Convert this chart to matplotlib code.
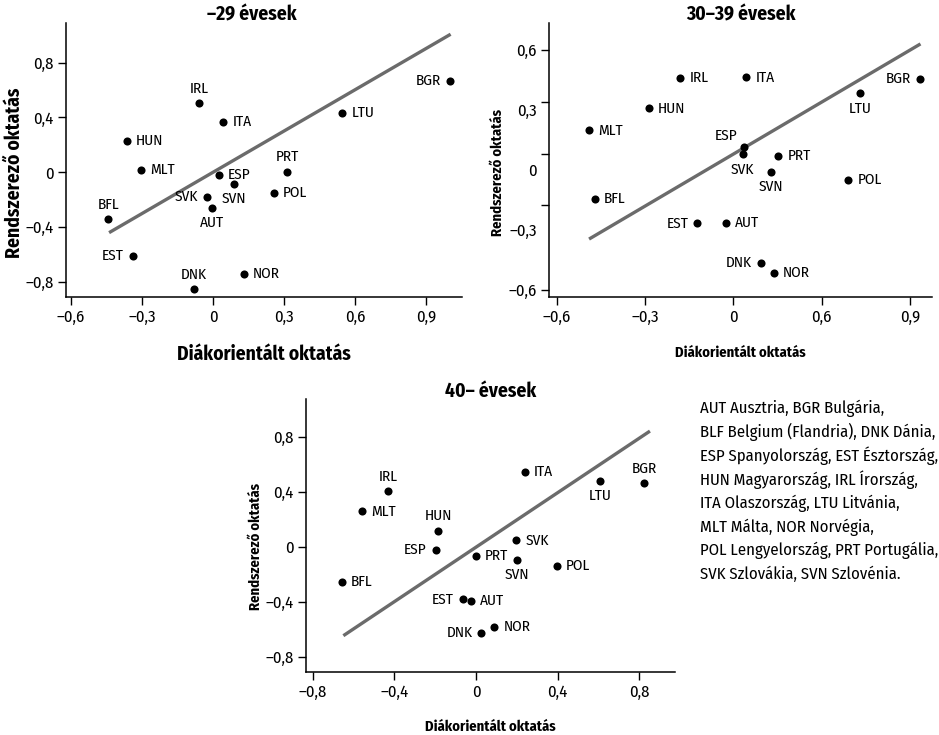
import matplotlib
matplotlib.use('Agg')
import matplotlib.pyplot as plt
from matplotlib.ticker import FixedLocator, FixedFormatter, NullFormatter

plt.rcParams['font.family'] = ['Fira Sans Condensed', 'Roboto Condensed', 'PT Sans Narrow',
                               'Asap Condensed', 'Liberation Sans Narrow', 'DejaVu Sans']

# --- data ---
codes = ['BGR', 'LTU', 'IRL', 'ITA', 'HUN', 'MLT', 'ESP', 'PRT',
         'SVN', 'POL', 'SVK', 'AUT', 'BFL', 'EST', 'NOR', 'DNK']

x_29 = [1.00, 0.547, -0.058, 0.044, -0.363, -0.304, 0.025, 0.314,
        0.090, 0.258, -0.025, -0.004, -0.442, -0.338, 0.131, -0.082]
y_29 = [0.667, 0.431, 0.504, 0.367, 0.231, 0.019, -0.020, 0.004,
        -0.083, -0.153, -0.180, -0.258, -0.341, -0.609, -0.740, -0.855]
fit_29 = ([-0.439, 1.004], [-0.441, 1.008])

x_30 = [0.636, 0.430, -0.180, 0.044, -0.286, -0.490, 0.036, 0.153,
        0.129, 0.391, 0.032, -0.024, -0.470, -0.122, 0.138, 0.093]
y_30 = [0.457, 0.383, 0.460, 0.463, 0.308, 0.198, 0.117, 0.072,
        -0.008, -0.048, 0.078, -0.263, -0.145, -0.267, -0.513, -0.465]
fit_30 = ([-0.490, 0.636], [-0.345, 0.630])

x_40 = [0.823, 0.607, -0.429, 0.238, -0.186, -0.560, -0.198, 0.000,
        0.202, 0.395, 0.198, -0.023, -0.656, -0.064, 0.090, 0.026]
y_40 = [0.463, 0.478, 0.405, 0.545, 0.116, 0.257, -0.022, -0.065,
        -0.095, -0.141, 0.046, -0.395, -0.257, -0.383, -0.582, -0.625]
fit_40 = ([-0.650, 0.852], [-0.647, 0.841])

xticks_29 = [-0.6, -0.3, 0, 0.3, 0.6, 0.9]
xticklabels_29 = ['–0,6', '–0,3', '0', '0,3', '0,6', '0,9']
yticks_29 = [-0.8, -0.4, 0, 0.4, 0.8]
yticklabels_29 = ['–0,8', '–0,4', '0', '0,4', '0,8']

xticks_30 = [-0.6, -0.3, 0, 0.3, 0.6]
xticklabels_30 = ['–0,6', '–0,3', '0', '0,6', '0,9']
yticks_30 = [-0.6, -0.3, 0, 0.3, 0.6]
yticklabels_30 = ['–0,6', '–0,3', '0', '0,3', '0,6']

xticks_40 = [-0.8, -0.4, 0, 0.4, 0.8]
xticklabels_40 = ['–0,8', '–0,4', '0', '0,4', '0,8']
yticks_40 = [-0.8, -0.4, 0, 0.4, 0.8]
yticklabels_40 = ['–0,8', '–0,4', '0', '0,4', '0,8']

key_lines = [
    'AUT Ausztria, BGR Bulgária,',
    'BLF Belgium (Flandria), DNK Dánia,',
    'ESP Spanyolország, EST Észtország,',
    'HUN Magyarország, IRL Írország,',
    'ITA Olaszország, LTU Litvánia,',
    'MLT Málta, NOR Norvégia,',
    'POL Lengyelország, PRT Portugália,',
    'SVK Szlovákia, SVN Szlovénia.',
]

# label placement: r=right, l=left, t=above, b=below
place_29 = dict(BGR='l', LTU='r', IRL='t', ITA='r', HUN='r', MLT='r', ESP='r',
                PRT='t', SVN='b', POL='r', SVK='l', AUT='b', BFL='t', EST='l',
                NOR='r', DNK='t')
place_30 = dict(BGR='l', LTU='b', IRL='r', ITA='r', HUN='r', MLT='r', ESP='tl',
                PRT='r', SVN='b', POL='r', SVK='b', AUT='r', BFL='r', EST='l',
                NOR='r', DNK='l')
place_40 = dict(BGR='t', LTU='b', IRL='t', ITA='r', HUN='t', MLT='r', ESP='l',
                PRT='r', SVN='b', POL='r', SVK='r', AUT='r', BFL='r', EST='l',
                NOR='r', DNK='l')

OFFS = {'r': ((6.5, 0), 'left'), 'l': ((-6.5, 0), 'right'),
        't': ((0, 10.5), 'center'), 'b': ((0, -11), 'center'),
        'tl': ((-5, 8), 'right')}

LINE_GREY = '#6b6b6b'


def draw_panel(ax, xs, ys, fit, place, title, xlim, ylim,
               xt, xtl, yt, ytl, big=False):
    ax.plot(fit[0], fit[1], color=LINE_GREY, lw=2.4, solid_capstyle='butt', zorder=1)
    ax.scatter(xs, ys, s=34, color='black', zorder=3, linewidths=0)
    for c, x, y in zip(codes, xs, ys):
        (dx, dy), ha = OFFS[place[c]]
        ax.annotate(c, (x, y), xytext=(dx, dy), textcoords='offset points',
                    ha=ha, va='center', fontsize=11)
    ax.set_xlim(*xlim)
    ax.set_ylim(*ylim)
    ax.xaxis.set_major_locator(FixedLocator(xt))
    ax.xaxis.set_major_formatter(FixedFormatter(xtl))
    ax.yaxis.set_major_locator(FixedLocator(yt))
    ax.yaxis.set_major_formatter(FixedFormatter(ytl))
    for s in ['top', 'right']:
        ax.spines[s].set_visible(False)
    for s in ['left', 'bottom']:
        ax.spines[s].set_linewidth(1.1)
    ax.tick_params(direction='out', length=5.5, width=1.0, labelsize=12, pad=3.5)
    lab_size = 14 if big else 10.5
    ax.set_xlabel('Diákorientált oktatás', fontsize=lab_size, fontweight='bold')
    ax.set_ylabel('Rendszerező oktatás', fontsize=lab_size, fontweight='bold')
    ax.text(0.47 if big else 0.5, 1.03, title, transform=ax.transAxes,
            ha='center', va='center', fontsize=14, fontweight='bold')


fig = plt.figure(figsize=(9.39, 7.35), dpi=100)

ax1 = fig.add_axes([0.0703, 0.5959, 0.4217, 0.3728])
draw_panel(ax1, x_29, y_29, fit_29, place_29, '–29 évesek',
           (-0.621, 1.052), (-0.911, 1.09),
           xticks_29, xticklabels_29, yticks_29, yticklabels_29, big=True)
ax1.xaxis.set_label_coords(0.5, -0.172)
ax1.yaxis.set_label_coords(-0.106, 0.454)

ax2 = fig.add_axes([0.585, 0.5963, 0.4072, 0.372])
draw_panel(ax2, x_30, y_30, fit_30, place_30, '30–39 évesek',
           (-0.625, 0.674), (-0.633, 0.733),
           xticks_30, xticklabels_30, yticks_30, yticklabels_30)
# in the reference the y tick marks sit apart from their labels
ax2.yaxis.remove_overlapping_locs = False
ax2.yaxis.set_minor_locator(FixedLocator(yticks_30))
ax2.yaxis.set_minor_formatter(FixedFormatter(yticklabels_30))
ax2.yaxis.set_major_locator(FixedLocator([0.6, 0.338, 0.082, -0.175, -0.6]))
ax2.yaxis.set_major_formatter(NullFormatter())
ax2.tick_params(axis='y', which='minor', length=0, labelsize=12, pad=9)
ax2.xaxis.set_label_coords(0.5, -0.178)
ax2.yaxis.set_label_coords(-0.115, 0.453)

ax3 = fig.add_axes([0.3259, 0.0861, 0.393, 0.3706])
draw_panel(ax3, x_40, y_40, fit_40, place_40, '40– évesek',
           (-0.833, 0.975), (-0.909, 1.072),
           xticks_40, xticklabels_40, yticks_40, yticklabels_40)
ax3.xaxis.set_label_coords(0.5, -0.176)
ax3.yaxis.set_label_coords(-0.117, 0.458)

for i, line in enumerate(key_lines):
    fig.text(700 / 939, 1 - (408 + i * 23.8) / 735, line,
             ha='left', va='center', fontsize=12)

fig.savefig('out.png', dpi=100)
